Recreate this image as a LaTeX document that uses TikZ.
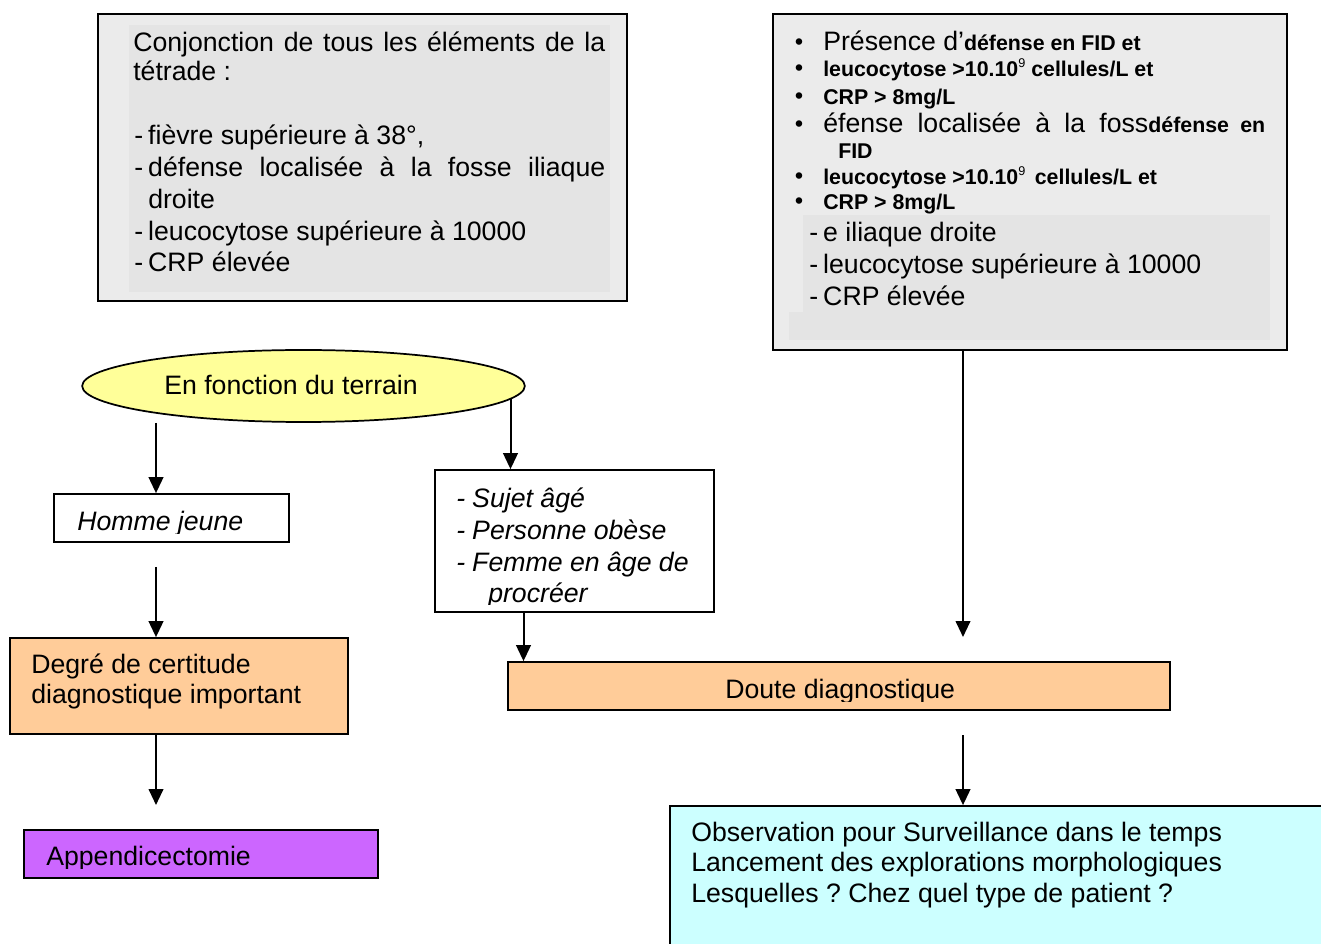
\documentclass[tikz,border=0pt]{standalone}
\usepackage{fontspec}
\setmainfont{Liberation Sans}
\usetikzlibrary{arrows.meta,shapes.geometric,fit}
\definecolor{boxgray}{HTML}{EBEBEB}
\definecolor{boxgrayin}{HTML}{E4E4E4}
\definecolor{ellyellow}{HTML}{FFFF99}
\definecolor{peach}{HTML}{FFCC99}
\definecolor{violetbox}{HTML}{CC66FF}
\definecolor{cyanbox}{HTML}{CCFFFF}
\newcommand\regf{\frenchspacing\fontsize{20}{24}\selectfont}
\newcommand\bldf{\frenchspacing\fontsize{16}{19}\selectfont\bfseries}
\newcommand\hy[1]{\makebox[#1][l]{-}}
\newcommand\supnine{\raisebox{6.5pt}{\fontsize{9.5}{10}\selectfont\mdseries 9}}
\begin{document}
\begin{tikzpicture}[x=0.75pt,y=-0.75pt,
  box/.style={draw=black,line width=1.3pt,inner sep=0pt},
  txt/.style={inner sep=0pt,anchor=base west,font=\regf,yshift=-1pt},
  btxt/.style={inner sep=0pt,anchor=base west,font=\bldf,yshift=-1pt},
  itxt/.style={inner sep=0pt,anchor=base west,font=\regf\itshape,yshift=-1pt},
  bul/.style={inner sep=0pt,anchor=base,font=\fontsize{17}{18}\selectfont\bfseries,yshift=-0.5pt},
  arr/.style={line width=1.5pt,-{Triangle[length=12pt,width=11pt]}}]
\useasboundingbox (0,0) rectangle (1321,944);
\fill[white] (0,0) rectangle (1321,944);

% ---- top left box
\node[box,fill=boxgray,fit={(98,14) (627,301)}] (b1) {};
\fill[boxgrayin] (129,25) rectangle (610,292);
\node[txt] (b1l1) at (133,50) {\makebox[354pt][s]{Conjonction de tous les éléments de la}};
\node[txt] (b1l2) at (133,79) {tétrade :};
\node[txt] (b1l3) at (134,143) {\hy{10.5pt}fièvre supérieure à 38°,};
\node[txt] (b1l4) at (134,175) {\hy{10.5pt}\makebox[342.75pt][s]{défense localisée à la fosse iliaque}};
\node[txt] (b1l5) at (148,207) {droite};
\node[txt] (b1l6) at (134,239) {\hy{10.5pt}leucocytose supérieure à 10000};
\node[txt] (b1l7) at (134,270) {\hy{10.5pt}CRP élevée};

% ---- top right box
\node[box,fill=boxgray,fit={(773,14) (1287,350)}] (b2) {};
\fill[boxgrayin] (803,215) rectangle (1270,312);
\fill[boxgrayin] (789,312) rectangle (1270,340);
\node[bul] (u1) at (799,49) {•};
\node[bul] (u2) at (799,75) {•};
\node[bul] (u3) at (799,103) {•};
\node[bul] (u4) at (799,131) {•};
\node[bul] (u5) at (799,183) {•};
\node[bul] (u6) at (799,208) {•};
\node[txt] (b2l1) at (823,49) {Présence d’{\bldf défense en FID et}};
\node[btxt] (b2l2) at (823,75) {leucocytose >10.10\supnine{} cellules/L et};
\node[btxt] (b2l3) at (823,103) {CRP > 8mg/L};
\node[txt] (b2l4) at (823,131) {\makebox[331.5pt][s]{éfense localisée à la foss{\bldf défense en}}};
\node[btxt] (b2l5) at (838,157) {FID};
\node[btxt] (b2l6) at (823,183) {leucocytose >10.10\supnine{}\, cellules/L et};
\node[btxt] (b2l7) at (823,208) {CRP > 8mg/L};
\node[txt] (b2l8) at (809,240) {\hy{10.5pt}e iliaque droite};
\node[txt] (b2l9) at (809,272) {\hy{10.5pt}leucocytose supérieure à 10000};
\node[txt] (b2l10) at (809,304) {\hy{10.5pt}CRP élevée};

% ---- ellipse
\node[ellipse,draw=black,line width=1.3pt,fill=ellyellow,minimum width=332pt,minimum height=54pt,inner sep=0pt] (ell) at (303.5,386) {};
\node[txt] (ellt) at (164,393) {En fonction du terrain};

% ---- left branch
\node[box,fill=white,fit={(54,494) (289,542)}] (homme) {};
\begin{scope}
\clip (54,494) rectangle (289,534);
\node[itxt] (hommet) at (77,529) {Homme jeune};
\end{scope}
\node[box,fill=peach,fit={(10,638) (348,734)}] (degre) {};
\node[txt] (degret1) at (31,672) {Degré de certitude};
\node[txt] (degret2) at (31,702) {diagnostique important};
\node[box,fill=violetbox,fit={(24,830) (378,878)}] (appe) {};
\begin{scope}
\clip (24,830) rectangle (378,868);
\node[txt] (appet) at (46,864) {Appendicectomie};
\end{scope}

% ---- middle branch
\node[box,fill=white,fit={(435,470) (714,612)}] (sujet) {};
\node[itxt] (sujet1) at (456,506) {\hy{12pt}Sujet âgé};
\node[itxt] (sujet2) at (456,538) {\hy{12pt}Personne obèse};
\node[itxt] (sujet3) at (456,570) {\hy{12pt}Femme en âge de};
\begin{scope}
\clip (435,580) rectangle (714,604);
\node[itxt] (sujet4) at (488,601) {procréer};
\end{scope}
\node[box,fill=peach,fit={(508,662) (1170,710)}] (doute) {};
\begin{scope}
\clip (508,662) rectangle (1170,701);
\node[txt] (doutet) at (725,697) {Doute diagnostique};
\end{scope}

% ---- bottom right
\node[box,fill=cyanbox,fit={(670,806) (1345,965)}] (obs) {};
\node[txt] (obs1) at (691,840) {Observation pour Surveillance dans le temps};
\node[txt] (obs2) at (691,870) {Lancement des explorations morphologiques};
\node[txt] (obs3) at (691,901) {Lesquelles ? Chez quel type de patient ?};

% ---- connectors
\coordinate (p1) at (156,423);
\draw[arr] (p1) -- (p1 |- homme.north);
\coordinate (p2) at (510.5,399);
\draw[arr] (p2) -- (p2 |- sujet.north);
\coordinate (p3) at (156,567);
\draw[arr] (p3) -- (p3 |- degre.north);
\coordinate (p4) at (156,805);
\draw[arr] (degre.south -| p4) -- (p4);
\coordinate (p5) at (523.5,640);
\draw[arr] (sujet.south -| p5) -- (doute.north -| p5);
\coordinate (p6) at (963,637);
\draw[arr] (b2.south -| p6) -- (p6);
\coordinate (p7) at (963,735);
\draw[arr] (p7) -- (p7 |- obs.north);
\end{tikzpicture}
\end{document}
